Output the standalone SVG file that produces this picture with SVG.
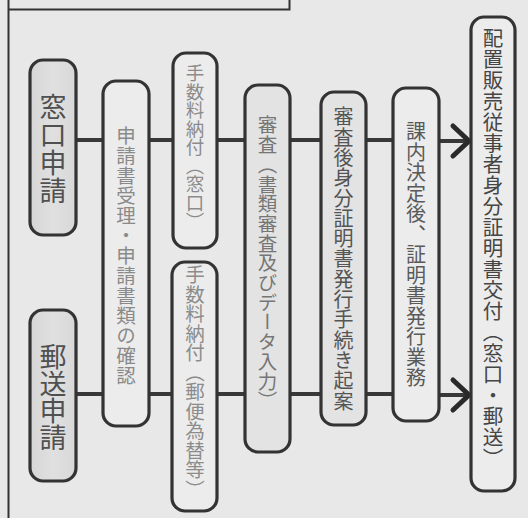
<svg xmlns="http://www.w3.org/2000/svg" width="528" height="518" viewBox="0 0 528 518">
<defs>
<style>
.box{stroke:#333;stroke-width:3.2}
.w{fill:#ececec}
.g{fill:#e3e3e3}
.s{fill:url(#lg)}
.t{font-family:"Noto Sans CJK JP","Noto Sans CJK SC",sans-serif;writing-mode:vertical-rl;text-anchor:middle}
.c{stroke:#383838;stroke-width:4;fill:none}
.a{stroke:#2a2a2a;stroke-width:5;fill:none;stroke-linecap:round;stroke-linejoin:miter}
.f{stroke:#333;stroke-width:2;fill:none}
</style>
<linearGradient id="lg" x1="0" y1="0" x2="1" y2="0">
<stop offset="0" stop-color="#d6d6d6"/>
<stop offset="0.5" stop-color="#e0e0e0"/>
<stop offset="1" stop-color="#d8d8d8"/>
</linearGradient>
</defs>
<rect width="528" height="518" fill="#e8e8e8"/>
<path class="f" d="M8.5,0 V518 M8.5,9.5 H289.5 V0"/>
<g id="connectors">
<line class="c" x1="76" y1="140" x2="103" y2="140"/>
<line class="c" x1="149" y1="140" x2="173" y2="140"/>
<line class="c" x1="217" y1="140" x2="245" y2="140"/>
<line class="c" x1="290" y1="140" x2="321" y2="140"/>
<line class="c" x1="366" y1="140" x2="393" y2="140"/>
<line class="c" x1="439" y1="141" x2="468" y2="141"/>
<polyline class="a" points="453,126 469,141 453,156"/>
<line class="c" x1="76" y1="394" x2="103" y2="394"/>
<line class="c" x1="149" y1="394" x2="172" y2="394"/>
<line class="c" x1="217" y1="394" x2="245" y2="394"/>
<line class="c" x1="290" y1="394" x2="321" y2="394"/>
<line class="c" x1="366" y1="394" x2="393" y2="394"/>
<line class="c" x1="439" y1="395" x2="468" y2="395"/>
<polyline class="a" points="453,380 469,395 453,410"/>
</g>
<g id="madoguchi">
<rect class="box s" x="30" y="60" width="46" height="175" rx="13"/>
<text class="t" x="53" y="149" font-size="27" letter-spacing="1" fill="#505050">窓口申請</text>
</g>
<g id="yuso">
<rect class="box s" x="30" y="310" width="46" height="171" rx="13"/>
<text class="t" x="53" y="397" font-size="27" letter-spacing="0" fill="#505050">郵送申請</text>
</g>
<g id="juri">
<rect class="box w" x="103" y="81" width="46" height="345" rx="13"/>
<text class="t" x="126" y="256" font-size="19.5" letter-spacing="0.5" fill="#8a8a8a">申請書受理・申請書類の確認</text>
</g>
<g id="tesuryo1">
<rect class="box w" x="173" y="53" width="44" height="195" rx="13"/>
<text class="t" x="195" y="147" font-size="18.5" letter-spacing="0" fill="#8c8c8c">手数料納付（窓口）</text>
</g>
<g id="tesuryo2">
<rect class="box w" x="172" y="262" width="45" height="249" rx="13"/>
<text class="t" x="195" y="382" font-size="19.5" letter-spacing="0" fill="#8c8c8c">手数料納付（郵便為替等）</text>
</g>
<g id="shinsa">
<rect class="box g" x="245" y="85" width="45" height="367" rx="13"/>
<text class="t" x="267.5" y="263" font-size="19.5" letter-spacing="0.2" fill="#767676">審査（書類審査及びデータ入力）</text>
</g>
<g id="kian">
<rect class="box g" x="321" y="92" width="45" height="333" rx="13"/>
<text class="t" x="343.5" y="259" font-size="20" letter-spacing="0.3" fill="#555">審査後身分証明書発行手続き起案</text>
</g>
<g id="kettei">
<rect class="box w" x="393" y="88" width="46" height="333" rx="13"/>
<text class="t" x="416" y="255" font-size="20" letter-spacing="0.5" fill="#5a5a5a">課内決定後、証明書発行業務</text>
</g>
<g id="kofu">
<rect class="box w" x="471" y="17" width="44" height="474" rx="13"/>
<text class="t" x="493" y="248" font-size="20.5" letter-spacing="0.5" fill="#454545">配置販売従事者身分証明書交付（窓口・郵送）</text>
</g>
</svg>
